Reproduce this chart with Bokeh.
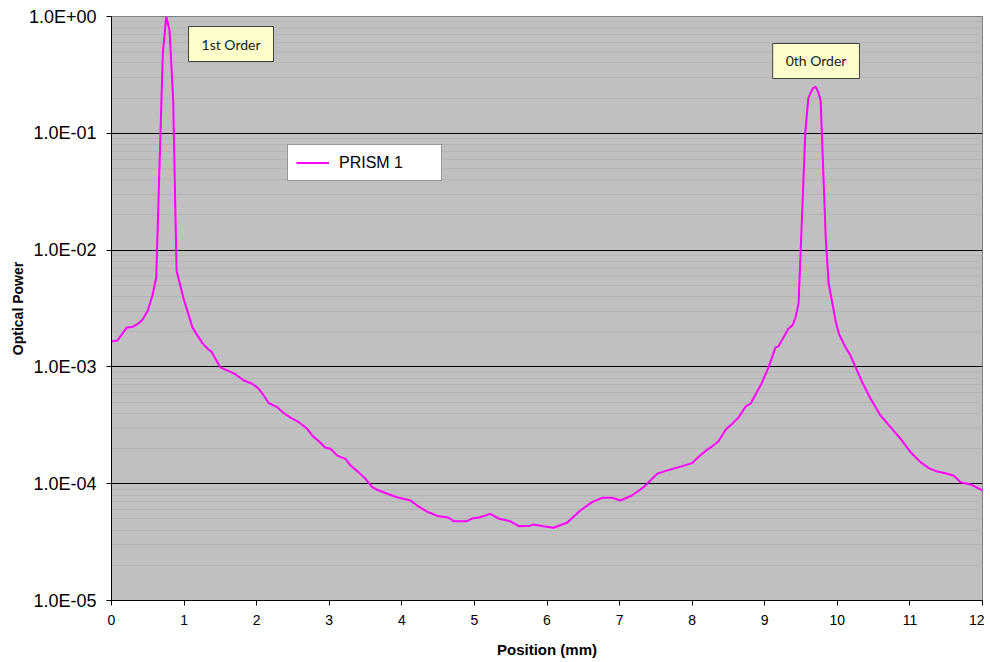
from bokeh.plotting import figure
from bokeh.models import (Range1d, LogTicker, FixedTicker, CustomJSTickFormatter,
                          Label, ColumnDataSource)
from bokeh.embed import file_html
from bokeh.resources import INLINE

# ---- data ----
position_mm = [
    0.0, 0.08, 0.21, 0.29, 0.37, 0.43, 0.50, 0.565, 0.616, 0.707, 0.754, 0.80,
    0.85, 0.896, 0.99, 1.116, 1.254, 1.336, 1.378, 1.50, 1.60, 1.70, 1.823,
    1.939, 2.029, 2.098, 2.167, 2.283, 2.374, 2.490, 2.581, 2.696, 2.765,
    2.856, 2.948, 3.017, 3.110, 3.224, 3.293, 3.407, 3.50, 3.592, 3.661,
    3.80, 3.936, 4.12, 4.21, 4.35, 4.49, 4.64, 4.71, 4.90, 4.97, 5.08, 5.22,
    5.33, 5.50, 5.61, 5.77, 5.81, 5.95, 6.09, 6.28, 6.46, 6.62, 6.76, 6.90,
    7.01, 7.17, 7.33, 7.52, 7.66, 7.84, 8.00, 8.09, 8.18, 8.28, 8.36, 8.46,
    8.56, 8.64, 8.74, 8.806, 8.88, 8.965, 9.052, 9.148, 9.19, 9.259, 9.328,
    9.383, 9.424, 9.466, 9.56, 9.60, 9.66, 9.70, 9.74, 9.77, 9.84, 9.88,
    9.975, 10.021, 10.113, 10.182, 10.251, 10.343, 10.458, 10.595, 10.733,
    10.871, 11.009, 11.146, 11.261, 11.377, 11.491, 11.605, 11.698, 11.835,
    12.0,
]
optical_power = [
    1.65e-3, 1.68e-3, 2.17e-3, 2.2e-3, 2.35e-3, 2.55e-3, 3.04e-3, 4.1e-3,
    5.8e-3, 0.48, 1.0, 0.76, 0.19, 6.7e-3, 3.9e-3, 2.17e-3, 1.59e-3, 1.41e-3,
    1.35e-3, 9.9e-4, 9.3e-4, 8.7e-4, 7.65e-4, 7.17e-4, 6.49e-4, 5.69e-4,
    4.89e-4, 4.52e-4, 4.02e-4, 3.6e-4, 3.36e-4, 2.95e-4, 2.59e-4, 2.31e-4,
    2.03e-4, 1.99e-4, 1.74e-4, 1.63e-4, 1.43e-4, 1.25e-4, 1.10e-4, 9.33e-5,
    8.87e-5, 8.2e-5, 7.66e-5, 7.18e-5, 6.5e-5, 5.75e-5, 5.3e-5, 5.14e-5,
    4.78e-5, 4.78e-5, 5.04e-5, 5.17e-5, 5.52e-5, 5.04e-5, 4.75e-5, 4.33e-5,
    4.37e-5, 4.48e-5, 4.33e-5, 4.2e-5, 4.65e-5, 5.9e-5, 6.95e-5, 7.57e-5,
    7.57e-5, 7.18e-5, 7.93e-5, 9.33e-5, 1.22e-4, 1.30e-4, 1.40e-4, 1.5e-4,
    1.7e-4, 1.9e-4, 2.1e-4, 2.3e-4, 2.9e-4, 3.3e-4, 3.7e-4, 4.6e-4, 4.86e-4,
    5.9e-4, 7.4e-4, 9.9e-4, 1.47e-3, 1.5e-3, 1.79e-3, 2.13e-3, 2.27e-3,
    2.65e-3, 3.5e-3, 0.105, 0.2, 0.242, 0.25, 0.223, 0.19, 0.0128, 5.2e-3,
    2.5e-3, 1.92e-3, 1.47e-3, 1.25e-3, 9.94e-4, 7.39e-4, 5.33e-4, 3.84e-4,
    3.05e-4, 2.42e-4, 1.86e-4, 1.53e-4, 1.36e-4, 1.27e-4, 1.23e-4, 1.17e-4,
    1.03e-4, 9.85e-5, 8.75e-5,
]
series_name = "PRISM 1"
x_ticks = list(range(0, 13))
annotations = ["1st Order", "0th Order"]

FONT = "Liberation Sans"

p = figure(width=984, height=660, y_axis_type="log",
           output_backend="svg", toolbar_location=None,
           x_range=Range1d(0, 12), y_range=Range1d(1e-5, 1.0),
           min_border_left=111, min_border_right=2, min_border_top=16,
           min_border_bottom=60)

p.background_fill_color = "#C0C0C0"
p.border_fill_color = "white"
p.outline_line_color = "#808080"
p.outline_line_width = 1

src = ColumnDataSource(dict(x=position_mm, y=optical_power))
p.line("x", "y", source=src, line_color="#FF00FF", line_width=2,
       legend_label=series_name)

# axes
p.xaxis.ticker = FixedTicker(ticks=x_ticks)
p.xaxis.axis_label = "Position (mm)"
p.yaxis.axis_label = "Optical Power"
p.yaxis.ticker = LogTicker(num_minor_ticks=10)
p.yaxis.formatter = CustomJSTickFormatter(code="""
    const e = Math.round(Math.log10(tick));
    const m = tick / Math.pow(10, e);
    const a = Math.abs(e);
    return m.toFixed(1) + 'E' + (e < 0 ? '-' : '+') + (a < 10 ? '0' + a : '' + a);
""")
for ax in (p.xaxis[0], p.yaxis[0]):
    ax.axis_line_color = "black"
    ax.axis_line_width = 1
    ax.major_tick_line_color = "black"
    ax.major_tick_in = 0
    ax.major_tick_out = 5
    ax.minor_tick_line_color = None
    ax.major_label_text_font = FONT
    ax.major_label_text_color = "black"
    ax.axis_label_text_font = FONT
    ax.axis_label_text_font_style = "bold"
    ax.axis_label_text_color = "black"

p.xaxis.major_label_text_font_size = "14px"
p.xaxis.major_label_standoff = 9
p.xaxis.axis_label_text_font_size = "15px"
p.xaxis.axis_label_standoff = 13
p.yaxis.major_label_text_font_size = "18px"
p.yaxis.major_label_standoff = 10
p.yaxis.axis_label_text_font_size = "14px"
p.yaxis.axis_label_standoff = 0

# grids
p.xgrid.grid_line_color = None
p.ygrid.grid_line_color = "black"
p.ygrid.grid_line_width = 1
p.ygrid.minor_grid_line_color = "#B5B5B5"
p.ygrid.minor_grid_line_width = 1

# legend
leg = p.legend[0]
leg.location = (176, 419)
leg.padding = 8
leg.margin = 0
leg.spacing = 0
leg.glyph_width = 33
leg.glyph_height = 19
leg.label_height = 19
leg.label_standoff = 10
leg.label_width = 94
leg.label_text_font = FONT
leg.label_text_font_size = "16px"
leg.label_text_color = "black"
leg.background_fill_color = "white"
leg.background_fill_alpha = 1
leg.border_line_color = "#303030"
leg.border_line_width = 1

# peak annotations
ann_pos = [(1.647, 0.581), (9.707, 0.416)]
for txt, (ax_, ay_) in zip(annotations, ann_pos):
    p.add_layout(Label(x=ax_, y=ay_, text=txt, text_align="center",
                       text_baseline="middle", text_font="Lato",
                       text_font_size="14px", text_color="#202020",
                       background_fill_color="#FFFFCC",
                       border_line_color="#404040", border_line_width=1,
                       padding=(13, 9)))

open("out.html", "w").write(file_html(p, INLINE))
